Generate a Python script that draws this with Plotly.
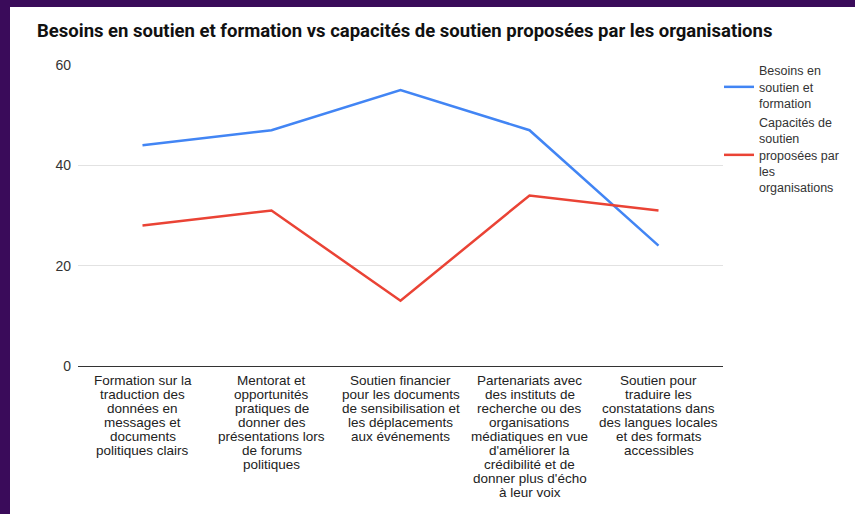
import plotly.graph_objects as go

categories = [
    "Formation sur la<br>traduction des<br>données en<br>messages et<br>documents<br>politiques clairs",
    "Mentorat et<br>opportunités<br>pratiques de<br>donner des<br>présentations lors<br>de forums<br>politiques",
    "Soutien financier<br>pour les documents<br>de sensibilisation et<br>les déplacements<br>aux événements",
    "Partenariats avec<br>des instituts de<br>recherche ou des<br>organisations<br>médiatiques en vue<br>d'améliorer la<br>crédibilité et de<br>donner plus d'écho<br>à leur voix",
    "Soutien pour<br>traduire les<br>constatations dans<br>des langues locales<br>et des formats<br>accessibles",
]
besoins = [44, 47, 55, 47, 24]
capacites = [28, 31, 13, 34, 31]
series_names = [
    "Besoins en<br>soutien et<br>formation",
    "Capacités de<br>soutien<br>proposées par<br>les<br>organisations",
]
y_ticks = [0, 20, 40, 60]

W, H = 855, 514
L, T = 78, 65
R, B = W - 723, H - 366
PW, PH = W - L - R, H - T - B
PURPLE = "#3a0b5a"

fig = go.Figure()
fig.add_trace(go.Scatter(x=categories, y=besoins, mode="lines", name=series_names[0],
                         line=dict(color="#4285f4", width=2.5)))
fig.add_trace(go.Scatter(x=categories, y=capacites, mode="lines", name=series_names[1],
                         line=dict(color="#ea4335", width=2.5)))

# purple frame strips (top and left)
fig.add_shape(type="rect", xref="paper", yref="paper",
              x0=-(L + 5) / PW, x1=(W + 5 - L) / PW,
              y0=(H - 7 - B) / PH, y1=(H + 5 - B) / PH,
              fillcolor=PURPLE, line=dict(width=0), layer="below")
fig.add_shape(type="rect", xref="paper", yref="paper",
              x0=-(L + 5) / PW, x1=(10 - L) / PW,
              y0=-(B + 5) / PH, y1=(H + 5 - B) / PH,
              fillcolor=PURPLE, line=dict(width=0), layer="below")

# category labels with tight line spacing
for cat in categories:
    for i, line in enumerate(cat.split("<br>")):
        fig.add_annotation(x=cat, y=0, xref="x", yref="y", text=line, showarrow=False,
                           xanchor="center", yanchor="middle", yshift=-(14 + 14 * i),
                           font=dict(family="Liberation Sans, Arial, sans-serif", size=13.5, color="#222"))

fig.update_layout(
    width=W, height=H,
    paper_bgcolor="white",
    plot_bgcolor="white",
    margin=dict(l=L, r=R, t=T, b=B, autoexpand=False),
    title=dict(text="<b>Besoins en soutien et formation vs capacités de soutien proposées par les organisations</b>",
               x=37 / W, xanchor="left", y=1 - 31 / H, yanchor="middle",
               font=dict(family="Roboto, Arial, sans-serif", size=18.5, color="#111")),
    font=dict(family="Liberation Sans, Arial, sans-serif", size=12, color="#333"),
    showlegend=True,
    legend=dict(x=(719 - L) / PW, xanchor="left", y=1.03, yanchor="top",
                font=dict(size=12.5, color="#333"), bgcolor="rgba(0,0,0,0)",
                tracegroupgap=6),
)
fig.update_xaxes(showgrid=False, ticks="", showline=False, showticklabels=False,
                 range=[-0.5, 4.5], automargin=False)
fig.update_yaxes(range=[0, 60], tickvals=y_ticks, gridcolor="#e2e2e2", gridwidth=1,
                 zeroline=True, zerolinecolor="#333", zerolinewidth=1, automargin=False,
                 ticks="", tickfont=dict(size=14, color="#333"), ticklabelstandoff=6)

fig.write_html("out.html", config={"displayModeBar": False},
               post_script="document.body.style.margin='0';document.body.style.overflow='hidden';")
